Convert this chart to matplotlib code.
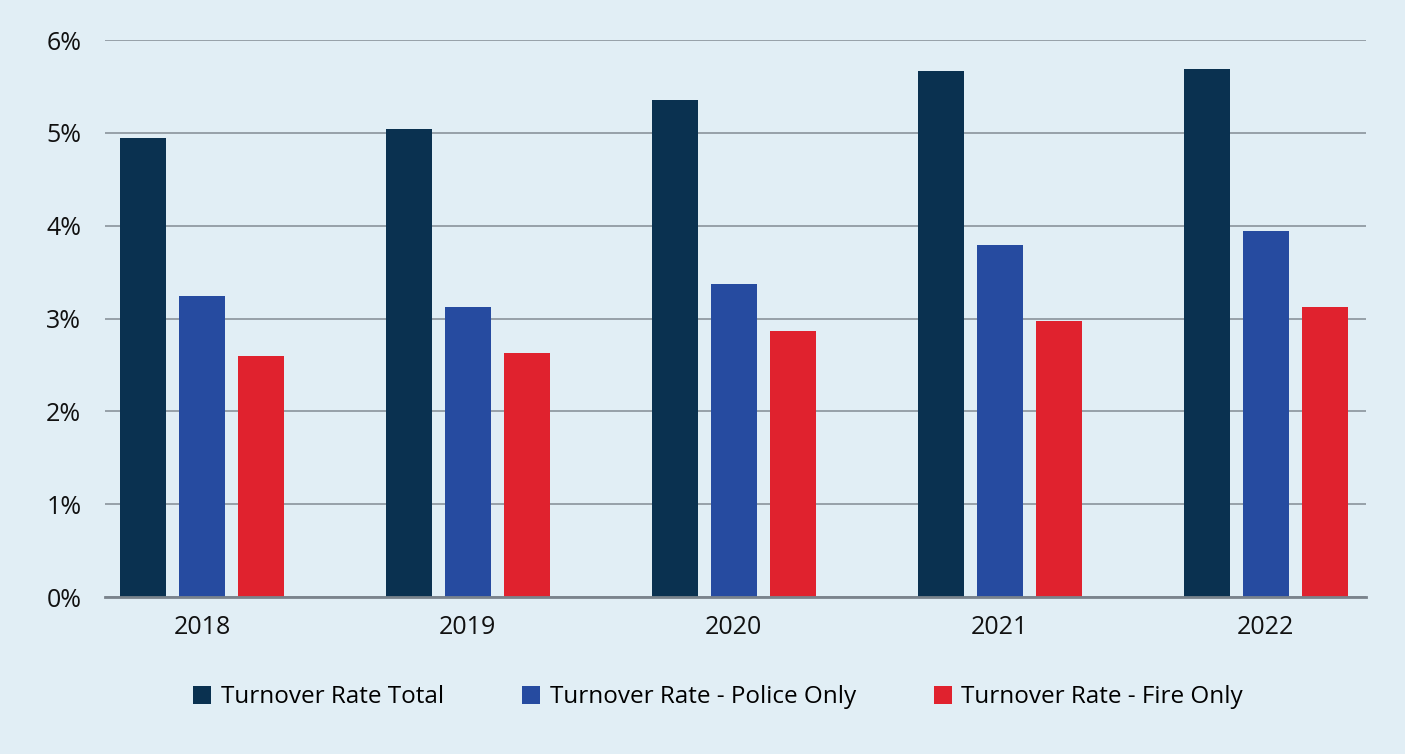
import numpy as np
import matplotlib
matplotlib.use("Agg")
import matplotlib.pyplot as plt
from matplotlib.ticker import FuncFormatter

years = ["2018", "2019", "2020", "2021", "2022"]
total = [4.94, 5.04, 5.35, 5.67, 5.69]
police = [3.24, 3.12, 3.37, 3.79, 3.94]
fire = [2.60, 2.63, 2.87, 2.97, 3.12]
series_names = ["Turnover Rate Total", "Turnover Rate - Police Only", "Turnover Rate - Fire Only"]
colors = ["#0A3150", "#264BA0", "#E0222E"]

bg = "#E1EEF5"
plt.rcParams["font.family"] = ["Open Sans", "DejaVu Sans"]

fig = plt.figure(figsize=(14.05, 7.54), dpi=100, facecolor=bg)
ax = fig.add_axes([0.0747, 0.2082, 0.8975, 0.7387])
ax.set_facecolor(bg)

x = np.arange(len(years))
width = 0.173
offsets = [-0.222, 0.0, 0.222]
for vals, off, col, name in zip([total, police, fire], offsets, colors, series_names):
    ax.bar(x + off, vals, width, color=col, label=name, zorder=3)

ax.set_ylim(0, 6)
ax.set_xlim(-0.365, 4.377)
ax.set_yticks(range(0, 7))
ax.yaxis.set_major_formatter(FuncFormatter(lambda v, p: f"{int(v)}%"))
ax.set_xticks(x)
ax.set_xticklabels(years)
ax.grid(axis="y", color="#8A939B", linewidth=1.2, zorder=0)
for s in ["top", "right", "left"]:
    ax.spines[s].set_visible(False)
ax.spines["bottom"].set_color("#7A838C")
ax.spines["bottom"].set_linewidth(2)
ax.spines["bottom"].set_zorder(4)
ax.tick_params(axis="both", length=0, labelsize=18, colors="#111111")
ax.tick_params(axis="y", pad=17)
ax.tick_params(axis="x", pad=13)

handles, labels = ax.get_legend_handles_labels()
fig.legend(handles, labels, loc="center", bbox_to_anchor=(0.511, 0.075), ncol=3,
           frameon=False, fontsize=17.5, handlelength=0.75, handleheight=0.75,
           handletextpad=0.4, columnspacing=3.2)

plt.savefig("out.png", dpi=100, facecolor=bg)
